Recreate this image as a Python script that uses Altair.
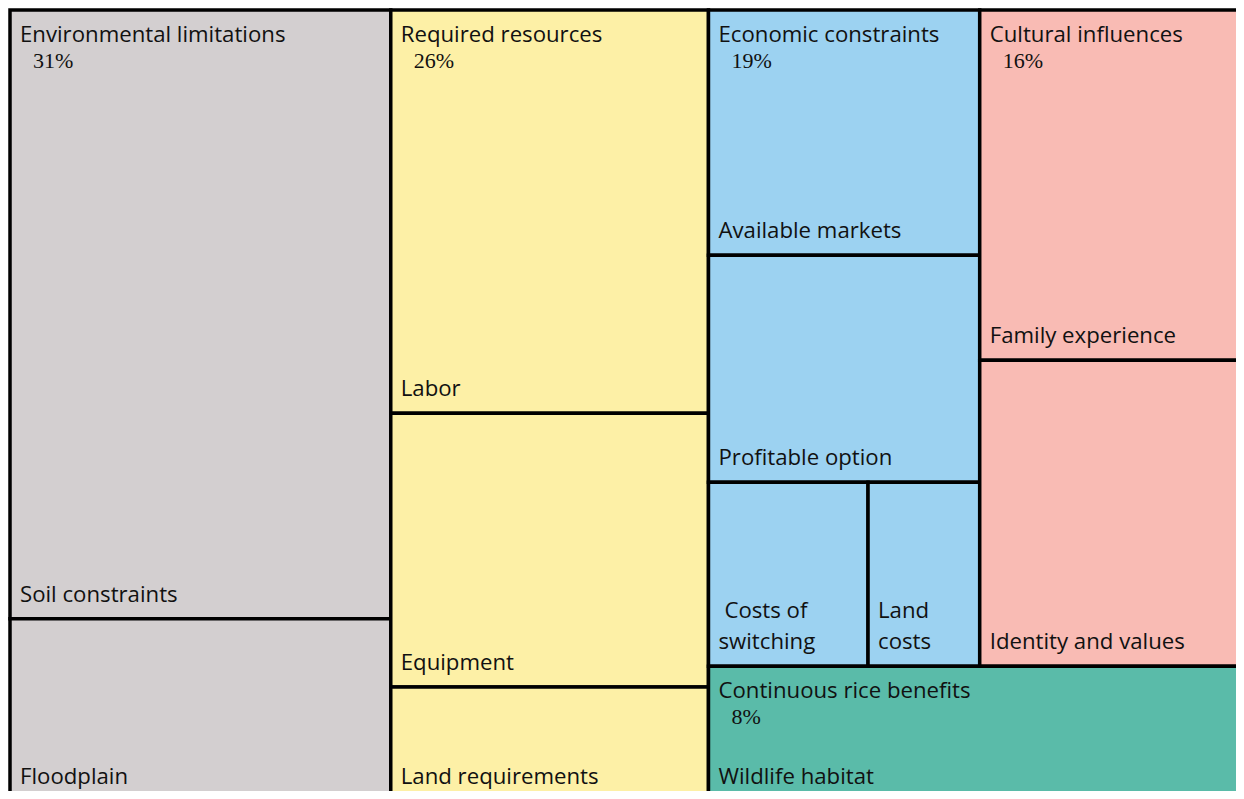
import altair as alt
import pandas as pd

# ---- data (percent of total) ----
groups = ["Environmental limitations", "Required resources", "Economic constraints",
          "Cultural influences", "Continuous rice benefits"]
group_pct_labels = ["31%", "26%", "19%", "16%", "8%"]
group_colors = ["#D3CFD0", "#FDF0A6", "#9CD2F1", "#F9BBB4", "#5ABBA9"]

env_items = ["Soil constraints", "Floodplain"]
env_values = [23.7, 7.1]
req_items = ["Labor", "Equipment", "Land requirements"]
req_values = [13.1, 8.9, 3.7]
eco_items = ["Available markets", "Profitable option", "Costs of\nswitching", "Land\ncosts"]
eco_values = [6.8, 6.3, 3.0, 2.1]
cul_items = ["Family experience", "Identity and values"]
cul_values = [9.5, 8.3]
crb_items = ["Wildlife habitat"]
crb_values = [7.4]

# full treemap extent (the right and bottom edges fall just outside the visible view)
W, H = 1235.0, 791.0
VIEW_W, VIEW_H = 1226, 781

# ---- slice-and-dice layout computed from the values ----
cells = []  # (group, item, x0, x1, y0, y1)

def stack_vertical(group, items, values, x0, x1, y0, y1):
    tot = sum(values)
    y = y0
    for it, v in zip(items, values):
        h = (y1 - y0) * v / tot
        cells.append((group, it, x0, x1, y, y + h))
        y += h

def stack_horizontal(group, items, values, x0, x1, y0, y1):
    tot = sum(values)
    x = x0
    for it, v in zip(items, values):
        w = (x1 - x0) * v / tot
        cells.append((group, it, x, x + w, y0, y1))
        x += w

total = sum(env_values) + sum(req_values) + sum(eco_values) + sum(cul_values) + sum(crb_values)
x_env = W * sum(env_values) / total
x_req = x_env + W * sum(req_values) / total
stack_vertical(groups[0], env_items, env_values, 0, x_env, 0, H)
stack_vertical(groups[1], req_items, req_values, x_env, x_req, 0, H)

right_tot = sum(eco_values) + sum(cul_values) + sum(crb_values)
y_top = H * (sum(eco_values) + sum(cul_values)) / right_tot
x_eco = x_req + (W - x_req) * sum(eco_values) / (sum(eco_values) + sum(cul_values))

eco_tot = sum(eco_values)
ya = y_top * eco_values[0] / eco_tot
yb = ya + y_top * eco_values[1] / eco_tot
cells.append((groups[2], eco_items[0], x_req, x_eco, 0, ya))
cells.append((groups[2], eco_items[1], x_req, x_eco, ya, yb))
stack_horizontal(groups[2], eco_items[2:], eco_values[2:], x_req, x_eco, yb, y_top)

stack_vertical(groups[3], cul_items, cul_values, x_eco, W, 0, y_top)
stack_vertical(groups[4], crb_items, crb_values, x_req, W, y_top, H)

df = pd.DataFrame(cells, columns=["group", "item", "x0", "x1", "y0", "y1"])

gbox = df.groupby("group", sort=False).agg(x0=("x0", "min"), y0=("y0", "min")).reset_index()
gbox["pct"] = [group_pct_labels[groups.index(g)] for g in gbox["group"]]

leaf_rows = []
for _, r in df.iterrows():
    lines = r["item"].split("\n")
    n = len(lines)
    for i, ln in enumerate(lines):
        indent = 6 if (n > 1 and i == 0 and r["item"].startswith("Costs")) else 0
        leaf_rows.append({"text": ln, "x": r["x0"] + 10 + indent,
                          "y": r["y1"] - 24 - 31 * (n - 1 - i)})
leaf = pd.DataFrame(leaf_rows)

xs = alt.Scale(domain=[0, VIEW_W], nice=False, zero=False)
ys = alt.Scale(domain=[0, VIEW_H], nice=False, zero=False, reverse=True)

color = alt.Color("group:N", scale=alt.Scale(domain=groups, range=group_colors), legend=None)

rects = alt.Chart(df).mark_rect(stroke="black", strokeWidth=3.5).encode(
    x=alt.X("x0:Q", scale=xs, axis=None),
    x2="x1:Q",
    y=alt.Y("y0:Q", scale=ys, axis=None),
    y2="y1:Q",
    color=color,
)

FONT = "Open Sans"
FS = 22.2
hdr = alt.Chart(gbox).mark_text(
    align="left", baseline="middle", font=FONT, fontSize=FS, color="#111111", dx=10, dy=25
).encode(x=alt.X("x0:Q", scale=xs, axis=None), y=alt.Y("y0:Q", scale=ys, axis=None), text="group:N")

pct = alt.Chart(gbox).mark_text(
    align="left", baseline="middle", font="Liberation Serif", fontSize=22, color="#111111", dx=23, dy=51
).encode(x=alt.X("x0:Q", scale=xs, axis=None), y=alt.Y("y0:Q", scale=ys, axis=None), text="pct:N")

leaves = alt.Chart(leaf).mark_text(
    align="left", baseline="middle", font=FONT, fontSize=FS, color="#111111"
).encode(x=alt.X("x:Q", scale=xs, axis=None), y=alt.Y("y:Q", scale=ys, axis=None), text="text:N")

chart = alt.layer(rects, hdr, pct, leaves).properties(
    width=VIEW_W, height=VIEW_H,
    padding={"left": 2, "top": 2, "right": 0, "bottom": 0},
    background="white",
    autosize=alt.AutoSizeParams(type="none")
).configure_view(stroke=None)

chart.save("out.html", embed_options={"renderer": "svg", "actions": False})
